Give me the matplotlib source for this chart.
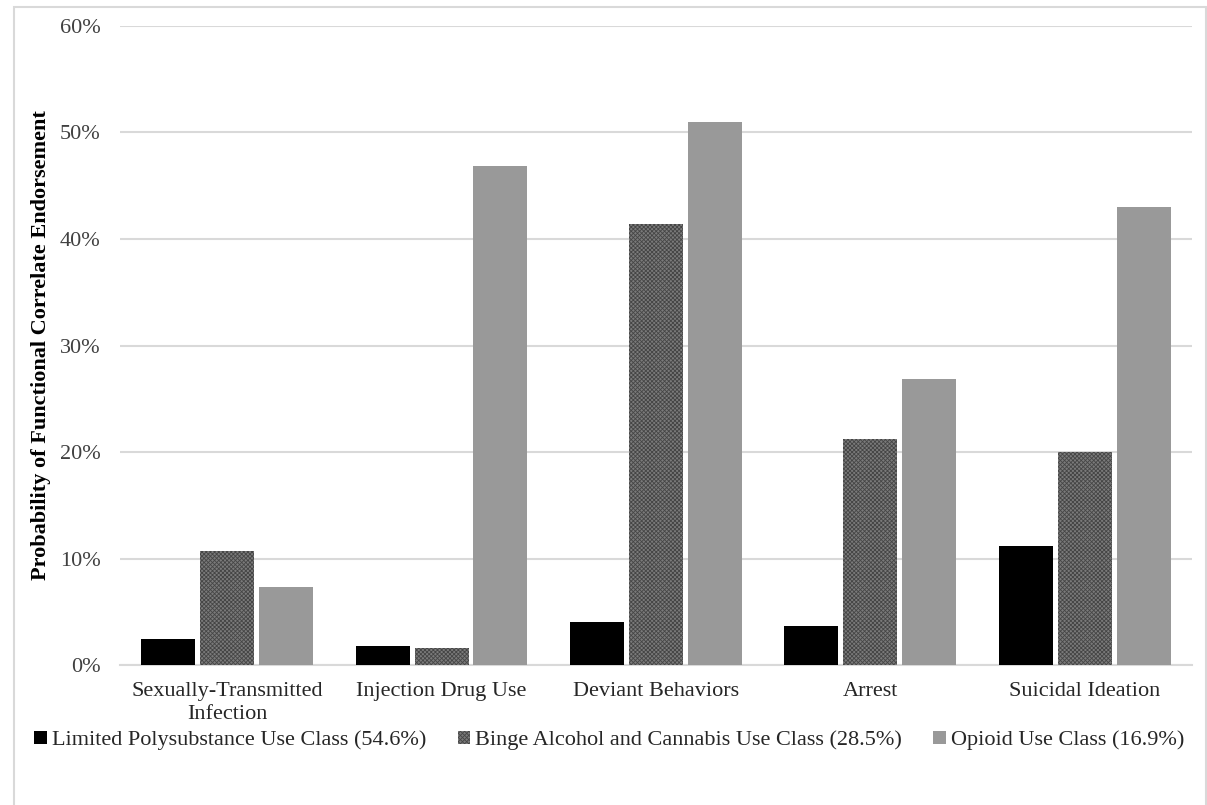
import matplotlib
matplotlib.use("Agg")
import matplotlib.pyplot as plt
import numpy as np
from matplotlib.patches import Rectangle

plt.rcParams['font.family'] = ['Liberation Serif', 'DejaVu Serif']
plt.rcParams['hatch.linewidth'] = 0.6

categories = ["Sexually-Transmitted\nInfection", "Injection Drug Use",
              "Deviant Behaviors", "Arrest", "Suicidal Ideation"]
series_names = ["Limited Polysubstance Use Class (54.6%)",
                "Binge Alcohol and Cannabis Use Class (28.5%)",
                "Opioid Use Class (16.9%)"]
limited = [2.5, 1.8, 4.1, 3.7, 11.2]
binge = [10.7, 1.6, 41.4, 21.2, 20.0]
opioid = [7.4, 46.8, 51.0, 26.9, 43.0]
y_ticks = [0, 10, 20, 30, 40, 50, 60]
y_tick_labels = ["0%", "10%", "20%", "30%", "40%", "50%", "60%"]

fig = plt.figure(figsize=(12.07, 8.05), dpi=100)
ax = fig.add_axes([0.0994, 0.1733, 0.888, 0.795])

x = np.arange(len(categories))
w = 0.252
step = 0.275

ax.bar(x - step, limited, w, color="#000000", label=series_names[0], zorder=3)
ax.bar(x, binge, w, facecolor="#7a7a7a", edgecolor="#454545", hatch="xxxxxxxx",
       linewidth=0, label=series_names[1], zorder=3)
ax.bar(x + step, opioid, w, color="#999999", label=series_names[2], zorder=3)

ax.set_xlim(-0.5, len(categories) - 0.5)
ax.set_ylim(0, 60)
ax.set_yticks(y_ticks)
ax.set_yticklabels(y_tick_labels, fontsize=16, color="#404040")
ax.set_xticks(x)
ax.set_xticklabels(categories, fontsize=16, color="#262626", linespacing=1.3)
ax.tick_params(axis="both", length=0)
ax.tick_params(axis="y", pad=14)
ax.tick_params(axis="x", pad=12)
ax.grid(axis="y", color="#d9d9d9", linewidth=1.5, zorder=0)
for s in ["top", "right", "left"]:
    ax.spines[s].set_visible(False)
ax.spines["bottom"].set_color("#d9d9d9")
ax.spines["bottom"].set_linewidth(1.5)

fig.text(0.034, 0.5715, "Probability of Functional Correlate Endorsement",
         rotation=90, ha="center", va="center", fontsize=16, fontweight="bold")

leg = fig.legend(loc="center", bbox_to_anchor=(0.505, 0.0805), ncol=3, frameon=False,
                 fontsize=16, handlelength=0.55, handleheight=0.55,
                 handletextpad=0.25, columnspacing=1.4)
for t in leg.get_texts():
    t.set_color("#262626")

# light frame around the whole chart
fig.patches.append(Rectangle((14 / 1207, -0.05), (1206 - 14) / 1207, 1 - 7 / 805 + 0.05,
                             transform=fig.transFigure, fill=False,
                             edgecolor="#d9d9d9", linewidth=1.5))

fig.savefig("out.png", dpi=100, facecolor="white")
